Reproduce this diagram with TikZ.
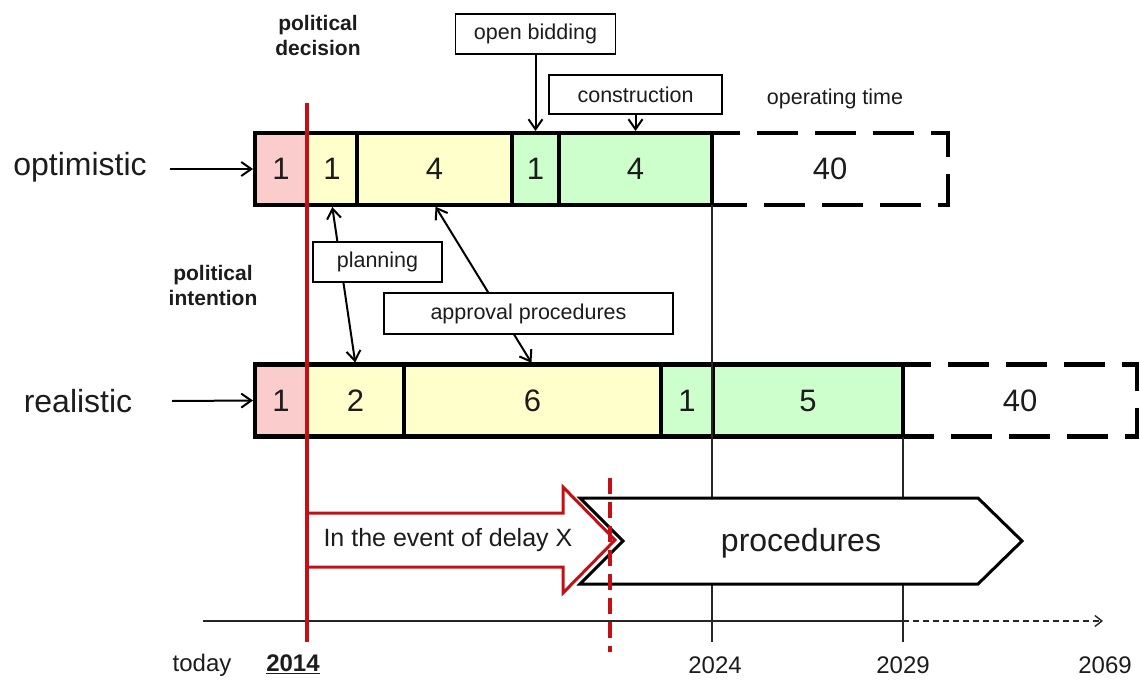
\documentclass[tikz,border=0pt]{standalone}
\usepackage{fontspec}
\setmainfont{Liberation Sans}
\usetikzlibrary{arrows.meta}
\definecolor{cpink}{RGB}{250,204,204}
\definecolor{cyel}{RGB}{255,255,204}
\definecolor{cgreen}{RGB}{204,255,204}
\definecolor{cred}{RGB}{196,16,20}
\definecolor{ink}{RGB}{28,28,28}
\begin{document}
\begin{tikzpicture}[x=1pt,y=-1pt,
  cell/.style={draw=black, line width=4.5pt, minimum height=72pt, inner sep=0pt,
    outer sep=0pt, anchor=west, text=ink, font=\fontsize{31}{36}\selectfont},
  opcell/.style={cell, draw=none},
  opframe/.style={draw=black, line width=4.5pt, dash pattern=on 41pt off 17pt, dash phase=13pt},
  rowlabel/.style={text=ink, font=\fontsize{32}{38}\selectfont},
  tag/.style={draw=black, fill=white, line width=1.5pt, inner sep=0pt, text=ink,
    font=\fontsize{21.5}{26}\selectfont},
  note/.style={text=ink, font=\fontsize{21}{25}\selectfont\bfseries, align=center},
  yearlbl/.style={text=ink, font=\fontsize{24}{28}\selectfont},
  pointer/.style={line width=2pt, -{Straight Barb[length=10pt,width=14pt,line width=2pt]}},
  twoway/.style={line width=2pt, {Straight Barb[length=10pt,width=14pt,line width=2pt]}-{Straight Barb[length=10pt,width=14pt,line width=2pt]}},
  guide/.style={line width=1.4pt, draw=black!85},
]
\useasboundingbox (0,0) rectangle (1140,682);

% guide lines down to the time axis
\coordinate (t24) at (712,642);
\coordinate (t29) at (903,642);
\coordinate (ax0) at (203,621);
\coordinate (ax1) at (903,621);
\coordinate (ax2) at (1103,621);
\draw[guide] (ax0) -- (ax1);
\draw[guide, dash pattern=on 6pt off 4pt, -{Straight Barb[length=7pt,width=11pt,line width=1.4pt]}] (ax1) -- (ax2);

% optimistic schedule
\node[opcell, minimum width=236pt] (o6) at (712,169) {40};
\draw[opframe] (o6.north west) -- (o6.north east) -- (o6.south east) -- (o6.south west) -- cycle;
\node[cell, fill=cpink,  minimum width=52pt]  (o1) at (255,169) {1};
\node[cell, fill=cyel,   minimum width=50pt]  (o2) at (307,169) {1};
\node[cell, fill=cyel,   minimum width=155pt] (o3) at (357,169) {4};
\node[cell, fill=cgreen, minimum width=47pt]  (o4) at (512,169) {1};
\node[cell, fill=cgreen, minimum width=153pt] (o5) at (559,169) {4};

% realistic schedule
\node[opcell, minimum width=234pt] (r6) at (903,400.5) {40};
\draw[opframe] (r6.north west) -- (r6.north east) -- (r6.south east) -- (r6.south west) -- cycle;
\node[cell, fill=cpink,  minimum width=52pt]  (r1) at (255,400.5) {1};
\node[cell, fill=cyel,   minimum width=97pt]  (r2) at (307,400.5) {2};
\node[cell, fill=cyel,   minimum width=257pt] (r3) at (404,400.5) {6};
\node[cell, fill=cgreen, minimum width=52pt]  (r4) at (661,400.5) {1};
\node[cell, fill=cgreen, minimum width=190pt] (r5) at (713,400.5) {5};

\draw[guide] (o5.south east) -- (t24);
\draw[guide] (r5.south east) -- (t29);

% row labels
\node[rowlabel] (lopt) at (80,167) {optimistic};
\node[rowlabel] (lreal) at (78,401) {realistic};
\coordinate (sopt) at (170,169);
\coordinate (sreal) at (172,401);
\draw[pointer, shorten >=2pt] (sopt) -- (o1.west);
\draw[pointer, shorten >=2pt] (sreal) -- (r1.west);

% phase links between the two schedules
\draw[twoway, shorten <=2pt, shorten >=2pt] (o2.south) -- (r2.north);
\draw[twoway, shorten <=2pt, shorten >=2pt] (o3.south) -- (r3.north);
\node[tag, minimum width=129pt, minimum height=40pt] (plan) at (377.5,262) {planning};
\node[tag, minimum width=289pt, minimum height=41pt] (appr) at (528.5,313.5) {approval procedures};

% phase callouts above
\node[tag, minimum width=160pt, minimum height=40pt] (bid) at (535.5,34) {open bidding};
\node[tag, minimum width=173pt, minimum height=39pt] (cons) at (635.5,94.5) {construction};
\draw[pointer, shorten >=2pt] (bid.south) -- (o4.north);
\draw[pointer, shorten >=2pt] (cons.south) -- (o5.north);
\node[text=ink, font=\fontsize{21.5}{26}\selectfont] (optime) at (835,99) {operating time};

% procedures block
\draw[line width=3pt, fill=white, line join=miter]
  (580,498) -- (978,498) -- (1022,541) -- (978,584) -- (580,584) -- (623,541) -- cycle;
\node[text=ink, font=\fontsize{32}{38}\selectfont] (proc) at (801,543) {procedures};

% delay arrow
\draw[cred, line width=3pt, fill=white, line join=miter]
  (307,513) -- (563,513) -- (563,487) -- (615,540) -- (563,593) -- (563,567) -- (307,567);
\node[text=ink, anchor=west, font=\fontsize{25}{30}\selectfont] (delay) at (320,540) {In the event of delay X};
\coordinate (dtop) at (610,478);
\coordinate (dbot) at (610,652);
\draw[cred, line width=4pt, dash pattern=on 16pt off 8pt] (dtop) -- (dbot);

% decision line
\coordinate (rtop) at (307,103);
\coordinate (rbot) at (307,642);
\draw[cred, line width=4pt] (rtop) -- (rbot);

% notes
\node[note] (pdec) at (318,35) {political\\decision};
\node[note] (pint) at (213,285) {political\\intention};

% year labels
\node[yearlbl] (ytoday) at (202,665) {today};
\node[yearlbl] (y14) at (293,664) {\underline{\textbf{2014}}};
\node[yearlbl] (y24) at (715,665) {2024};
\node[yearlbl] (y29) at (903,665) {2029};
\node[yearlbl] (y69) at (1105,665) {2069};
\end{tikzpicture}
\end{document}
